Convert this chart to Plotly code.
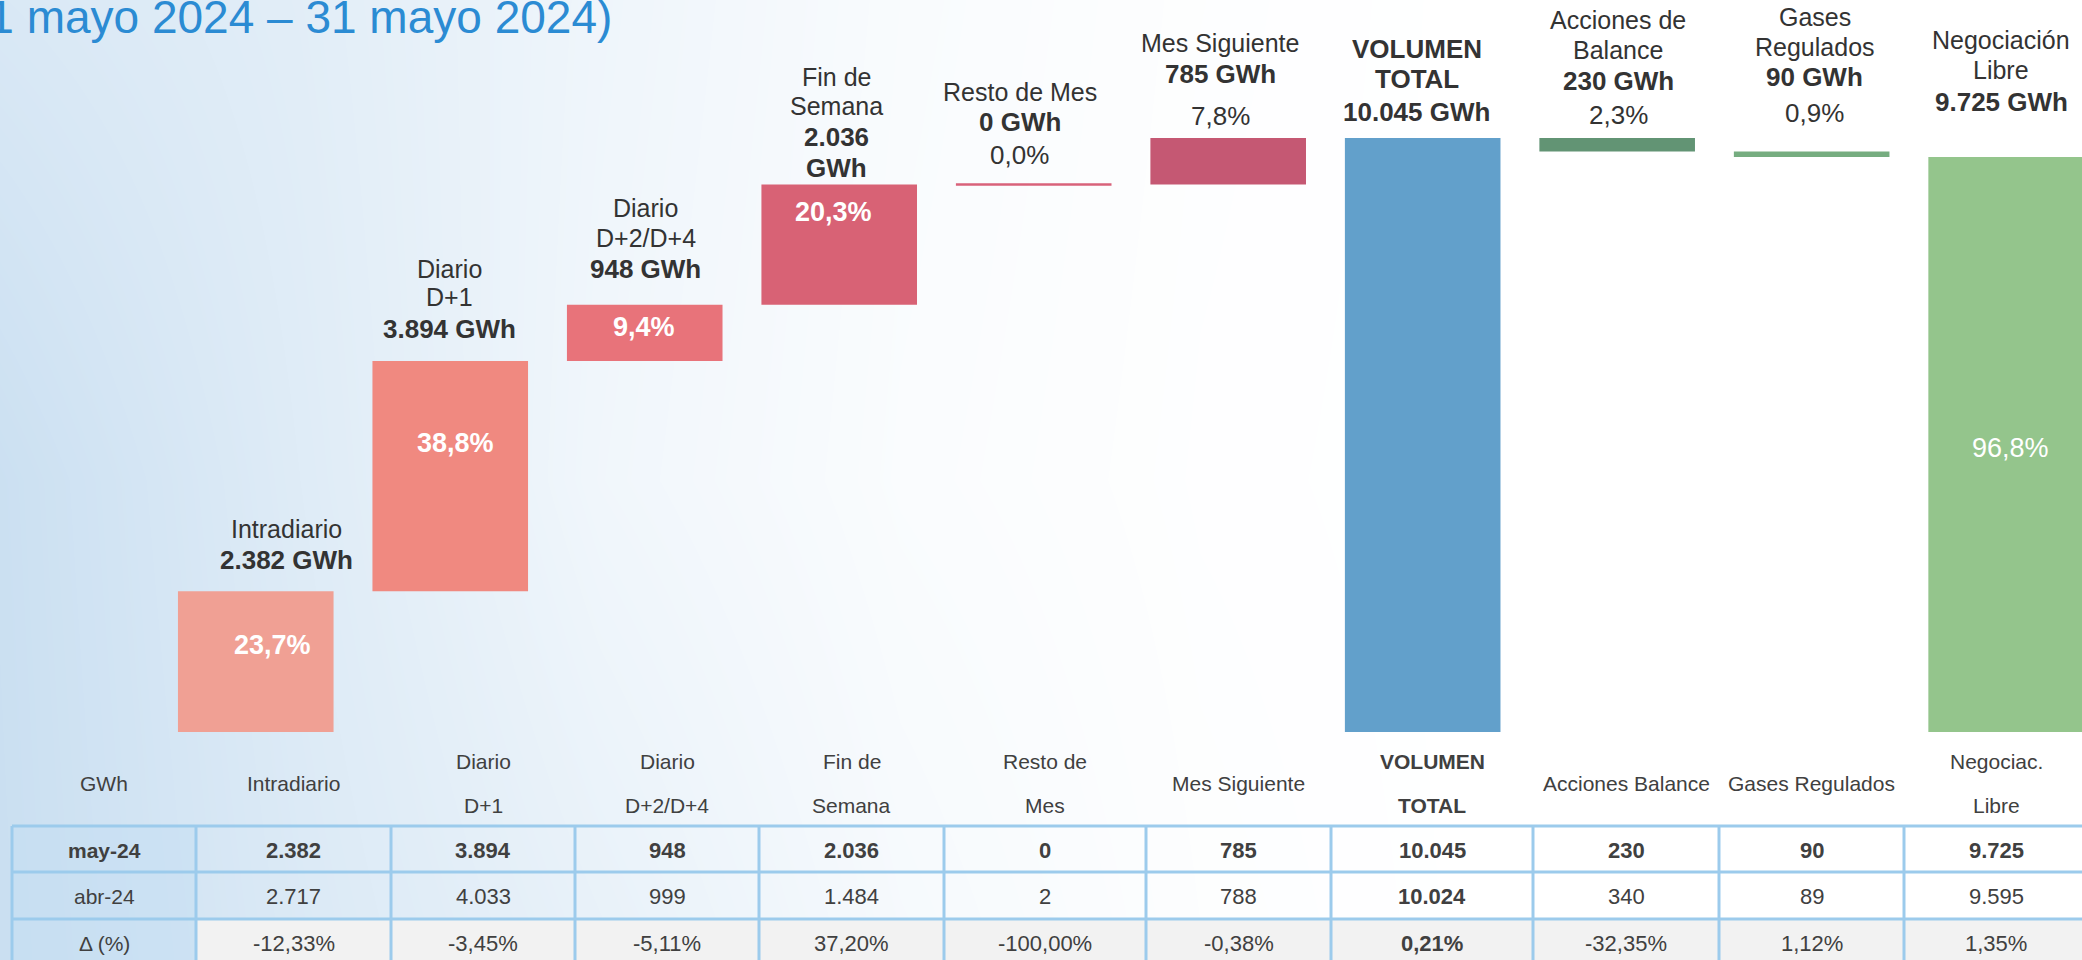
import plotly.graph_objects as go

# ---------------- data ----------------
categories = ["Intradiario", "Diario D+1", "Diario D+2/D+4", "Fin de Semana", "Resto de Mes",
              "Mes Siguiente", "VOLUMEN TOTAL", "Acciones de Balance", "Gases Regulados",
              "Negociación Libre"]
measures = ["up", "up", "up", "up", "up", "up", "total", "down", "down", "total"]
may24 = [2382, 3894, 948, 2036, 0, 785, 10045, 230, 90, 9725]
abr24 = [2717, 4033, 999, 1484, 2, 788, 10024, 340, 89, 9595]
delta_pct = [-12.33, -3.45, -5.11, 37.20, -100.00, -0.38, 0.21, -32.35, 1.12, 1.35]

bar_label_lines = [
    ["Intradiario", "<b>{v} GWh</b>"],
    ["Diario", "D+1", "<b>{v} GWh</b>"],
    ["Diario", "D+2/D+4", "<b>{v} GWh</b>"],
    ["Fin de", "Semana", "<b>{v}</b>", "<b>GWh</b>"],
    ["Resto de Mes", "<b>{v} GWh</b>", "{p}"],
    ["Mes Siguiente", "<b>{v} GWh</b>", "{p}"],
    ["<b>VOLUMEN</b>", "<b>TOTAL</b>", "<b>{v} GWh</b>"],
    ["Acciones de", "Balance", "<b>{v} GWh</b>", "{p}"],
    ["Gases", "Regulados", "<b>{v} GWh</b>", "{p}"],
    ["Negociación", "Libre", "<b>{v} GWh</b>"],
]
table_corner = "GWh"
table_headers = ["Intradiario", "Diario\nD+1", "Diario\nD+2/D+4", "Fin de\nSemana", "Resto de\nMes",
                 "Mes Siguiente", "<b>VOLUMEN</b>\n<b>TOTAL</b>", "Acciones Balance",
                 "Gases Regulados", "Negociac.\nLibre"]
row_labels = ["may-24", "abr-24", "Δ (%)"]
title_text = "(1 mayo 2024 – 31 mayo 2024)"

# ---------------- styles ----------------
W, H = 2082, 960
FONT = "Liberation Sans, Arial, Helvetica, sans-serif"
DARK = "#333333"
TXT = "#404040"
bar_colors = ["#f0a094", "#f08980", "#e8737a", "#d86275", "#d8627a", "#c55873",
              "#62a0cb", "#629474", "#76ad80", "#94c58c"]
label_offsets = [
    [-62, -31],
    [-92, -64, -32],
    [-97, -67, -36],
    [-107, -78, -47, -16],
    [-92, -62, -29],
    [-95, -64, -22],
    [-89, -59, -26],
    [-118, -88, -57, -23],
    [-135, -105, -75, -39],
    [-117, -87, -55],
]
label_xshift = [31, -1, 1, -3, -14, -8, -6, 1, 3, -5]
inside_offset = [54, 82, 22, 28, None, None, None, None, None, 291]
inside_bold = [True, True, True, True, False, False, False, False, False, False]
inside_xshift = [17, 5, -1, -6, 0, 0, 0, 0, 0, 4]
tbl_x = [12, 196, 391, 575, 759, 944, 1146, 1331, 1533, 1719, 1904, 2088]
tbl_y = [826, 872, 919, 966]
BORDER = "#9ccbec"

bg_x = [0, 300, 600, 900, 1200, 1500, 2082]
bg_y = [0, 480, 960]
bg_z = [[0.58, 0.45, 0.25, 0.10, 0.03, 0.0, 0.0],
        [0.80, 0.50, 0.22, 0.08, 0.02, 0.0, 0.0],
        [0.82, 0.56, 0.36, 0.15, 0.04, 0.0, 0.0]]


def px(x):
    return x / W


def py(y):
    return 1 - y / H


def fmt_int(v):
    return f"{v:,}".replace(",", ".")


def fmt_pct1(v):
    return f"{v:.1f}".replace(".", ",") + "%"


def fmt_pct2(v):
    return f"{v:.2f}".replace(".", ",") + "%"


# ---------------- bar geometry from data ----------------
bases = []
level = 0
for v, m in zip(may24, measures):
    if m == "up":
        bases.append(level)
        level += v
    elif m == "total":
        bases.append(0)
        level = v
    else:
        level -= v
        bases.append(level)
tops = [b + v for b, v in zip(bases, may24)]
total = may24[measures.index("total")]
shares = [v / total * 100 for v in may24]

fig = go.Figure()

# background gradient
fig.add_trace(go.Heatmap(x=bg_x, y=bg_y, z=bg_z, zmin=0, zmax=1, zsmooth="best",
                         colorscale=[[0, "#ffffff"], [1, "#bed8ee"]], showscale=False,
                         hoverinfo="skip", xaxis="x", yaxis="y"))

fig.add_trace(go.Bar(x=categories, y=may24, base=bases, width=0.8,
                     marker=dict(color=bar_colors, line=dict(width=0)),
                     hoverinfo="skip", xaxis="x2", yaxis="y2"))

shapes = []
# zero-height bars drawn as a line
for i, v in enumerate(may24):
    if v == 0:
        shapes.append(dict(type="line", xref="x2", yref="y2", x0=i - 0.4, x1=i + 0.4,
                           y0=tops[i], y1=tops[i], line=dict(color=bar_colors[i], width=2.5)))

annotations = []
# labels above bars
for i, lines in enumerate(bar_label_lines):
    for line, off in zip(lines, label_offsets[i]):
        text = line.format(v=fmt_int(may24[i]), p=fmt_pct1(shares[i]))
        size = 25
        if "<b>" in text or "%" in text:
            size = 26
        annotations.append(dict(x=categories[i], xref="x2", y=tops[i], yref="y2",
                                yshift=-off, xshift=label_xshift[i], yanchor="middle",
                                xanchor="center", showarrow=False, text=text,
                                font=dict(family=FONT, size=size, color=DARK)))
# percentage inside bars
for i, off in enumerate(inside_offset):
    if off is None:
        continue
    t = fmt_pct1(shares[i])
    if inside_bold[i]:
        t = f"<b>{t}</b>"
    annotations.append(dict(x=categories[i], xref="x2", y=tops[i], yref="y2",
                            yshift=-off, xshift=inside_xshift[i], yanchor="middle",
                            showarrow=False, text=t,
                            font=dict(family=FONT, size=27, color="white")))

# title (partially cut)
annotations.append(dict(x=px(614), xref="paper", y=py(17), yref="paper", xanchor="right",
                        yanchor="middle", showarrow=False, text=title_text,
                        font=dict(family=FONT, size=46, color="#2b8bd3")))

# ---------------- table ----------------
shapes.append(dict(type="rect", xref="paper", yref="paper", x0=px(tbl_x[0]), x1=px(tbl_x[1]),
                   y0=py(tbl_y[0]), y1=py(tbl_y[-1]), fillcolor="rgba(196,222,243,0.55)",
                   line=dict(width=0), layer="above"))
shapes.append(dict(type="rect", xref="paper", yref="paper", x0=px(tbl_x[1]), x1=px(tbl_x[-1]),
                   y0=py(tbl_y[2]), y1=py(tbl_y[3]), fillcolor="#f2f2f2",
                   line=dict(width=0), layer="above"))
for yy in tbl_y:
    shapes.append(dict(type="line", xref="paper", yref="paper", x0=px(tbl_x[0]), x1=px(tbl_x[-1]),
                       y0=py(yy), y1=py(yy), line=dict(color=BORDER, width=3), layer="above"))
for xx in tbl_x:
    shapes.append(dict(type="line", xref="paper", yref="paper", x0=px(xx), x1=px(xx),
                       y0=py(tbl_y[0]), y1=py(tbl_y[-1]), line=dict(color=BORDER, width=3),
                       layer="above"))

col_cx = [(tbl_x[j] + tbl_x[j + 1]) / 2 for j in range(len(tbl_x) - 1)]
row_cy = [(tbl_y[r] + tbl_y[r + 1]) / 2 + 1 for r in range(len(tbl_y) - 1)]


def tann(x, y, text, size=21, bold=False):
    if bold and "<b>" not in text:
        text = f"<b>{text}</b>"
    annotations.append(dict(x=px(x), xref="paper", y=py(y), yref="paper", xanchor="center",
                            yanchor="middle", showarrow=False, text=text,
                            font=dict(family=FONT, size=size, color=TXT)))


tann(col_cx[0], 783, table_corner)
for j, hdr in enumerate(table_headers):
    parts = hdr.split("\n")
    if len(parts) == 1:
        tann(col_cx[j + 1], 783, parts[0])
    else:
        tann(col_cx[j + 1], 761, parts[0])
        tann(col_cx[j + 1], 805, parts[1])

total_idx = measures.index("total")
for r, lab in enumerate(row_labels):
    tann(col_cx[0], row_cy[r], lab, size=21, bold=(r == 0))
for i in range(len(categories)):
    tann(col_cx[i + 1], row_cy[0], fmt_int(may24[i]), size=22, bold=True)
    tann(col_cx[i + 1], row_cy[1], fmt_int(abr24[i]), size=22, bold=(i == total_idx))
    tann(col_cx[i + 1], row_cy[2], fmt_pct2(delta_pct[i]), size=22, bold=(i == total_idx))

fig.update_layout(
    width=W, height=H, margin=dict(l=0, r=0, t=0, b=0, pad=0),
    paper_bgcolor="white", plot_bgcolor="rgba(0,0,0,0)", showlegend=False,
    xaxis=dict(range=[0, W], visible=False, fixedrange=True),
    yaxis=dict(range=[H, 0], visible=False, fixedrange=True),
    xaxis2=dict(type="category", categoryorder="array", categoryarray=categories,
                range=[-1.315, 9.39], overlaying="x", anchor="y2", visible=False),
    yaxis2=dict(range=[-3856, 12379], overlaying="y", anchor="x2", visible=False),
    shapes=shapes, annotations=annotations,
)

fig.write_html("out.html", include_plotlyjs=True, full_html=True,
               config={"displayModeBar": False, "staticPlot": True},
               post_script="document.body.style.margin='0';document.body.style.overflow='hidden';")
